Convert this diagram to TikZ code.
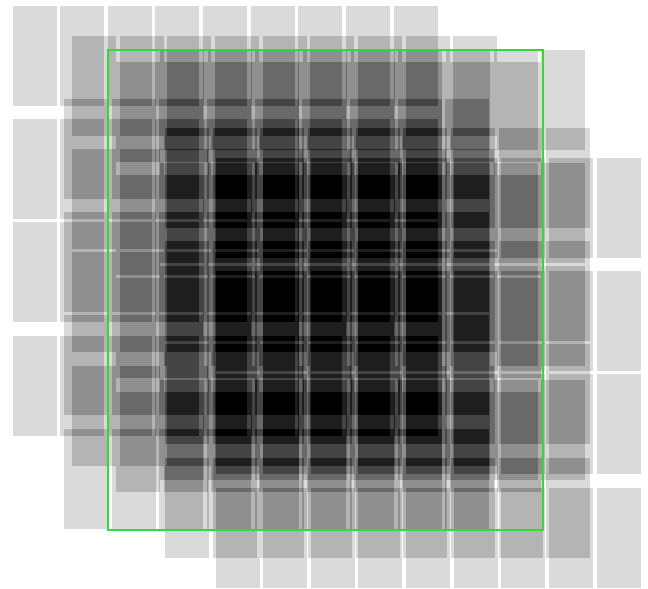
\documentclass[tikz,border=0pt]{standalone}
\definecolor{framegreen}{RGB}{55,215,55}
\definecolor{burngray}{gray}{0.1333}
\begin{document}
\begin{tikzpicture}[x=1pt,y=-1pt,
  tile/.style={fill=black, fill opacity=0.02},
  frameline/.style={draw=framegreen, line width=1.3pt}]
\useasboundingbox (0,0) rectangle (648,589);
\fill[white] (0,0) rectangle (648,589);
% seven overlapping tile mosaics (9 columns x 4 rows each)
\foreach \ox/\oy in {12.5/6, 72/36, 64/99, 116/62, 160/50, 165/128, 215.5/158} {
  \foreach \c in {0,...,8} {
    \foreach \r in {0,113,216,330} {
      \fill[tile] ({\ox+\c*47.66},{\oy+\r}) rectangle ++(44,100);
    }
  }
}
% map the accumulated coverage to a linear darkening
\begin{scope}[blend mode=color burn]
\fill[burngray] (0,0) rectangle (648,589);
\end{scope}
\coordinate (fa) at (108,50);
\coordinate (fb) at (543,530);
\draw[frameline] (fa) rectangle (fb);
\end{tikzpicture}
\end{document}
